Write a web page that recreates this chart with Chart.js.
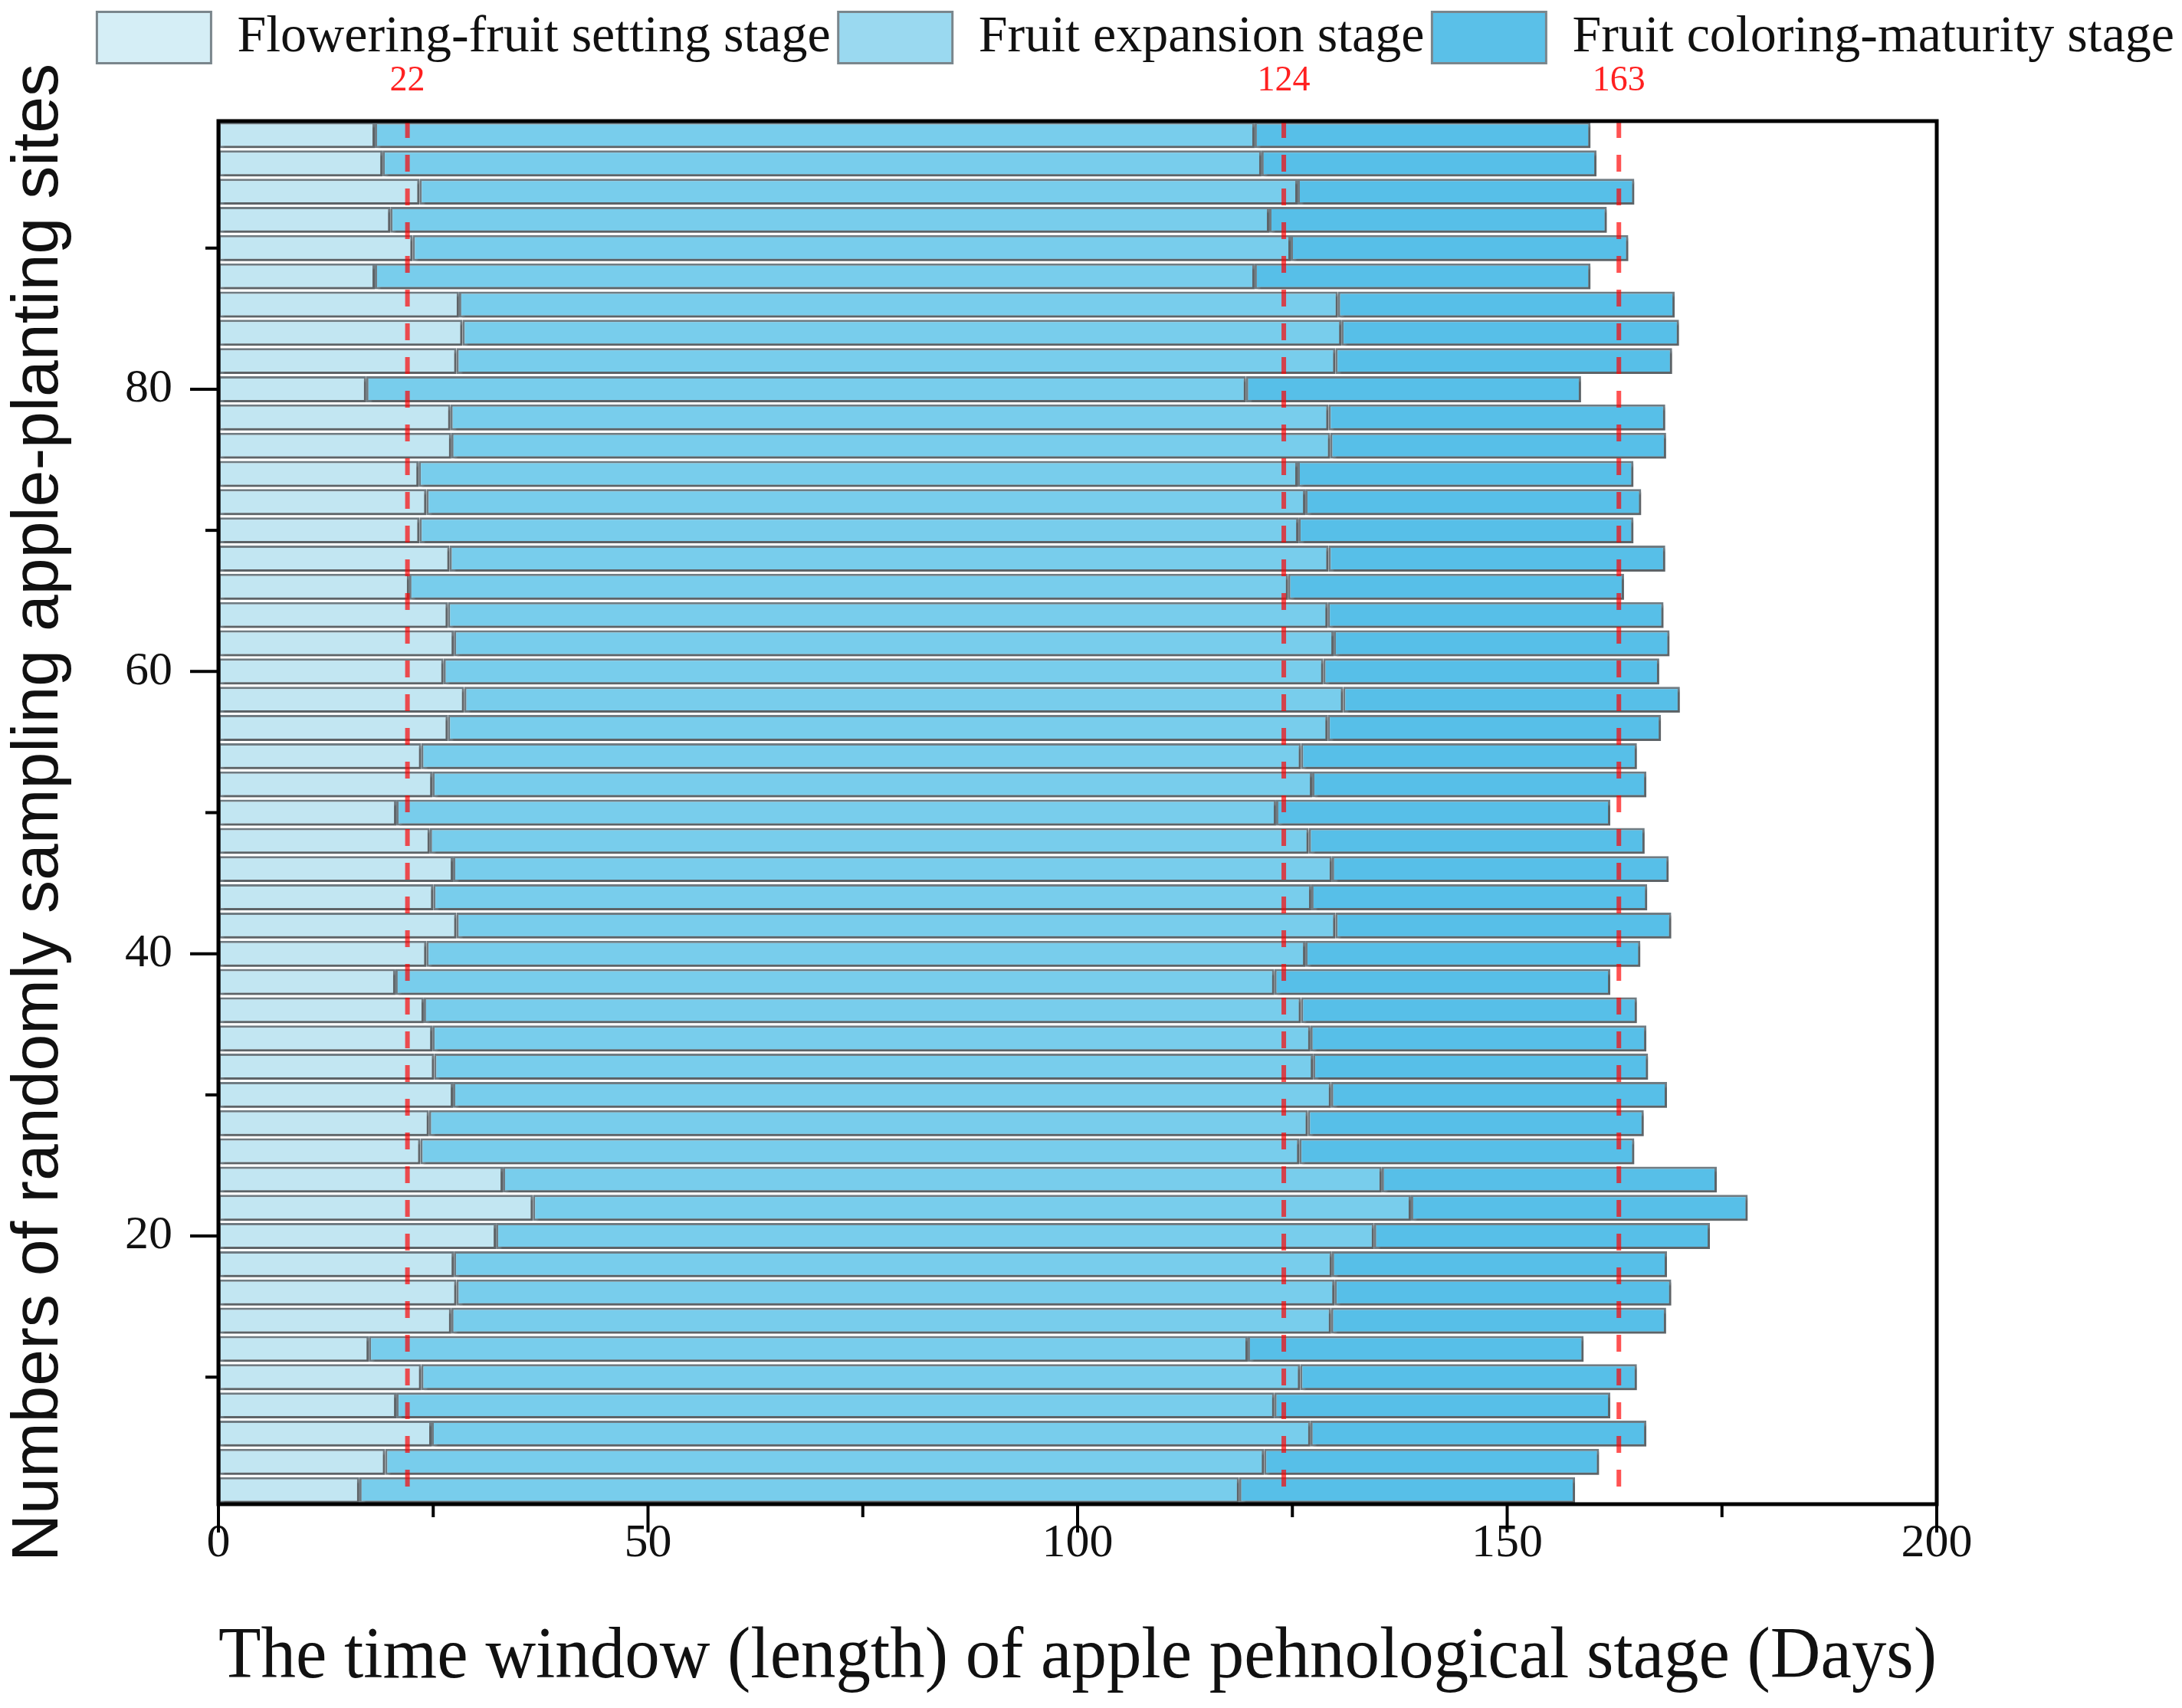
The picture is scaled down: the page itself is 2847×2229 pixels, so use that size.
<!DOCTYPE html>
<html>
<head>
<meta charset="utf-8">
<script src="https://cdn.jsdelivr.net/npm/chart.js@4.4.1/dist/chart.umd.min.js"></script>
<style>
  html, body { margin: 0; padding: 0; background: #ffffff; }
  #wrap { width: 2847px; height: 2229px; }
  canvas { display: block; }
</style>
</head>
<body>
<div id="wrap"><canvas id="c" width="2847" height="2229"></canvas></div>
<script>
// ---- data ----
const sites = [2,4,6,8,10,12,14,16,18,20,22,24,26,28,30,32,34,36,38,40,42,44,46,48,50,
               52,54,56,58,60,62,64,66,68,70,72,74,76,78,80,82,84,86,88,90,92,94,96,98];
// end day of the flowering-fruit setting stage
const floweringEnd = [16.4,19.4,24.8,20.7,23.6,17.5,27.1,27.7,27.4,32.3,36.6,33.1,23.5,24.5,27.3,25.1,24.9,23.9,20.6,24.2,
                      27.7,25.0,27.3,24.6,20.7,24.9,23.6,26.7,28.6,26.2,27.4,26.7,22.2,26.9,23.4,24.2,23.3,27.1,27.0,17.2,
                      27.7,28.4,28.0,18.2,22.6,20.0,23.4,19.1,18.2];
// end day of the fruit expansion stage
const expansionEnd = [118.8,121.7,127.1,122.9,125.9,119.8,129.5,129.9,129.6,134.5,138.8,135.4,125.8,126.8,129.5,127.4,127.1,126.0,122.9,126.5,
                      130.0,127.2,129.6,126.9,123.1,127.3,126.0,129.1,130.9,128.6,129.8,129.1,124.5,129.2,125.7,126.5,125.6,129.4,129.2,119.6,
                      130.0,130.7,130.3,120.6,124.8,122.3,125.6,121.4,120.6];
// end day of the fruit coloring-maturity stage
const coloringEnd = [157.9,160.7,166.2,162.0,165.1,158.9,168.5,169.1,168.6,173.6,178.0,174.4,164.8,165.9,168.6,166.4,166.2,165.1,162.0,165.5,
                     169.1,166.3,168.8,166.0,162.0,166.2,165.1,167.9,170.1,167.7,168.9,168.2,163.6,168.4,164.7,165.6,164.7,168.5,168.4,158.6,
                     169.2,170.0,169.5,159.7,164.1,161.6,164.8,160.4,159.7];
const stageNames = ['Flowering-fruit setting stage', 'Fruit expansion stage', 'Fruit coloring-maturity stage'];
const refLines = [22, 124, 163];
const xTickVals = [0,25,50,75,100,125,150,175,200];
const xLabelVals = [0,50,100,150,200];
const yTickVals = [10,20,30,40,50,60,70,80,90];
const yLabelVals = [20,40,60,80];
const xTitle = 'The time window (length) of apple pehnological stage (Days)';
const yTitle = 'Numbers of randomly sampling apple-planting sites';

// ---- build datasets ----
const colors = ['#c2e6f2', '#78cdec', '#57bfe8'];
const legendColors = ['#d5eef6', '#9ad9f0', '#5ac0e8'];
const starts = [sites.map(() => 0), floweringEnd, expansionEnd];
const ends = [floweringEnd, expansionEnd, coloringEnd];
const datasets = stageNames.map((name, k) => ({
  label: name,
  data: sites.map((s, i) => ({ y: s, x: [starts[k][i], ends[k][i]] })),
  backgroundColor: colors[k],
  borderColor: '#6f7b82',
  borderWidth: 3,
  borderSkipped: false,
  barPercentage: 0.92,
  categoryPercentage: 1.0,
  xAxisID: 'x',
  yAxisID: 'y'
}));

const serif = 'Liberation Serif';

const decor = {
  id: 'decor',
  beforeDatasetsDraw(chart) {
    const ctx = chart.ctx;
    ctx.save();
    ctx.shadowColor = 'rgba(70,70,70,0.45)';
    ctx.shadowOffsetX = 4;
    ctx.shadowOffsetY = 4;
    ctx.shadowBlur = 2;
  },
  afterDatasetsDraw(chart) {
    const ctx = chart.ctx;
    ctx.restore();
    const a = chart.chartArea;
    const xs = chart.scales.x;
    ctx.save();
    ctx.beginPath();
    ctx.rect(a.left, a.top, a.right - a.left, a.bottom - a.top);
    ctx.clip();
    ctx.strokeStyle = 'rgba(255,0,0,0.68)';
    ctx.lineWidth = 6;
    ctx.setLineDash([22, 22]);
    refLines.forEach(v => {
      const px = xs.getPixelForValue(v);
      ctx.beginPath();
      ctx.moveTo(px, a.top);
      ctx.lineTo(px, a.bottom);
      ctx.stroke();
    });
    ctx.restore();
  },
  afterDraw(chart) {
    const ctx = chart.ctx;
    const a = chart.chartArea;
    const xs = chart.scales.x, ys = chart.scales.y;
    ctx.save();
    ctx.strokeStyle = '#000';
    ctx.lineWidth = 4;
    xs.ticks.forEach(t => {
      const px = xs.getPixelForValue(t.value);
      const len = xLabelVals.includes(t.value) ? 37 : 17;
      ctx.beginPath();
      ctx.moveTo(px, a.bottom);
      ctx.lineTo(px, a.bottom + len);
      ctx.stroke();
    });
    ys.ticks.forEach(t => {
      const py = ys.getPixelForValue(t.value);
      const len = yLabelVals.includes(t.value) ? 37 : 17;
      ctx.beginPath();
      ctx.moveTo(a.left, py);
      ctx.lineTo(a.left - len, py);
      ctx.stroke();
    });
    ctx.lineWidth = 5;
    ctx.strokeRect(a.left, a.top, a.right - a.left, a.bottom - a.top);
    // value labels of the red reference lines
    ctx.fillStyle = '#ff2020';
    ctx.font = '46px "Liberation Serif"';
    ctx.textAlign = 'center';
    ctx.textBaseline = 'middle';
    refLines.forEach(v => {
      ctx.fillText(String(v), xs.getPixelForValue(v), a.top - 52);
    });
    ctx.restore();
  }
};

new Chart(document.getElementById('c'), {
  type: 'bar',
  data: { datasets },
  options: {
    indexAxis: 'y',
    responsive: false,
    animation: false,
    devicePixelRatio: 1,
    layout: { padding: { top: 5, left: 0, right: 0, bottom: 0 } },
    plugins: {
      legend: {
        display: true,
        position: 'top',
        align: 'end',
        labels: {
          boxWidth: 149,
          boxHeight: 67,
          padding: 10,
          color: '#111',
          font: { family: serif, size: 68 },
          generateLabels: chart => {
            const items = Chart.defaults.plugins.legend.labels.generateLabels(chart);
            items.forEach((it, i) => { it.fillStyle = legendColors[i]; it.strokeStyle = '#7a868c'; it.lineWidth = 3; });
            return items;
          }
        }
      },
      tooltip: { enabled: false }
    },
    scales: {
      x: {
        type: 'linear',
        position: 'bottom',
        min: 0, max: 200,
        offset: false,
        grid: { display: false, drawTicks: false },
        border: { display: false },
        afterBuildTicks: s => { s.ticks = xTickVals.map(v => ({ value: v })); },
        ticks: {
          autoSkip: false, maxRotation: 0, padding: 15, color: '#111',
          font: { family: serif, size: 62 },
          callback: v => xLabelVals.includes(v) ? String(v) : ''
        },
        title: {
          display: true, text: xTitle, color: '#111',
          font: { family: serif, size: 95 },
          padding: { top: 0, bottom: 8 }
        },
        afterFit: s => { s.height = 266; }
      },
      x2: {
        type: 'linear',
        position: 'top',
        min: 0, max: 200,
        offset: false,
        grid: { display: false, drawTicks: false },
        border: { display: false },
        ticks: { display: false },
        afterFit: s => { s.height = 65; }
      },
      y: {
        type: 'linear',
        position: 'left',
        min: 1, max: 99,
        offset: false,
        stacked: true,
        grid: { display: false, drawTicks: false, offset: false },
        border: { display: false },
        afterBuildTicks: s => { s.ticks = yTickVals.map(v => ({ value: v })); },
        ticks: {
          autoSkip: false, padding: 60, color: '#111',
          font: { family: serif, size: 62 },
          callback: v => yLabelVals.includes(v) ? String(v) : ''
        },
        title: {
          display: true, text: yTitle, color: '#111',
          font: { family: 'Liberation Sans', size: 86 },
          padding: { top: 0, bottom: 0 }
        },
        afterFit: s => { s.width = 285; }
      },
      y2: {
        type: 'linear',
        position: 'right',
        offset: false,
        grid: { display: false, drawTicks: false },
        border: { display: false },
        ticks: { display: false },
        afterFit: s => { s.width = 320; }
      }
    }
  },
  plugins: [decor]
});
</script>
</body>
</html>
